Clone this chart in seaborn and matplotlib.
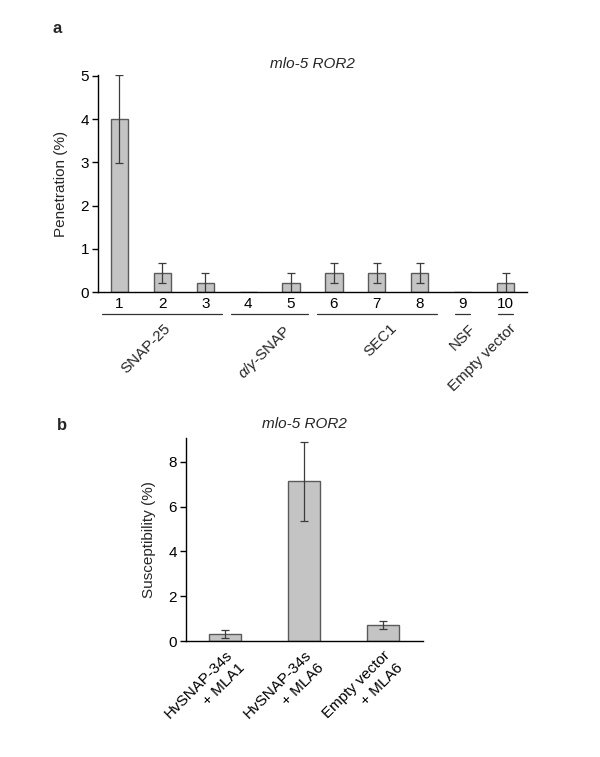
import numpy as np
import pandas as pd
import matplotlib
matplotlib.use("Agg")
import matplotlib.pyplot as plt
import matplotlib.transforms as mtransforms
import seaborn as sns

# ── Data ──────────────────────────────────────────────────────────────────────
lanes_a      = ["1", "2", "3", "4", "5", "6", "7", "8", "9", "10"]
penetration  = [4.0, 0.45, 0.22, 0.0, 0.22, 0.45, 0.45, 0.45, 0.0, 0.22]
pen_err      = [1.01, 0.23, 0.23, 0.0, 0.23, 0.23, 0.23, 0.23, 0.0, 0.23]
groups_a     = ["SNAP-25", r"$\alpha$/$\gamma$-SNAP", "SEC1", "NSF", "Empty vector"]
group_lanes  = [(0, 2), (3, 4), (5, 7), (8, 8), (9, 9)]

constructs_b   = ["HvSNAP-34s\n+ MLA1", "HvSNAP-34s\n+ MLA6", "Empty vector\n+ MLA6"]
susceptibility = [0.3, 7.12, 0.73]
susc_err       = [0.18, 1.77, 0.18]

TITLE = "mlo-5 ROR2"

# ── Style ─────────────────────────────────────────────────────────────────────
sns.set_theme(style="ticks")
plt.rcParams["font.family"] = ["Liberation Sans", "DejaVu Sans"]
plt.rcParams["mathtext.fontset"] = "custom"
plt.rcParams["mathtext.it"] = "Liberation Sans:italic"
plt.rcParams["mathtext.rm"] = "Liberation Sans"

BAR_FILL = "#c4c4c4"
BAR_EDGE = "#5a5a5a"
ERR_COL  = "#3c3c3c"
FS = 11

fig = plt.figure(figsize=(6.0, 7.57), dpi=100)
ax_a = fig.add_axes([0.1633, 0.6139, 0.715, 0.287])
ax_b = fig.add_axes([0.3095, 0.1532, 0.395, 0.2682])


def style_axis(ax):
    sns.despine(ax=ax)
    for s in ("left", "bottom"):
        ax.spines[s].set_linewidth(1.0)
        ax.spines[s].set_color("black")
    ax.tick_params(axis="y", length=4, width=1.0, pad=2.5, labelsize=FS, colors="black")
    ax.tick_params(axis="x", length=0, labelsize=FS, colors="black")
    ax.set_xlabel("")


def draw_errors(ax, vals, errs):
    idx = [i for i, e in enumerate(errs) if e > 0]
    ax.errorbar(idx, [vals[i] for i in idx], yerr=[errs[i] for i in idx],
                fmt="none", ecolor=ERR_COL, elinewidth=0.9, capsize=2.8,
                capthick=0.9, zorder=3)


# ── Panel a ───────────────────────────────────────────────────────────────────
df_a = pd.DataFrame({"lane": lanes_a, "pen": penetration})
sns.barplot(data=df_a, x="lane", y="pen", order=lanes_a, color=BAR_FILL,
            saturation=1, width=0.4, edgecolor=BAR_EDGE, linewidth=1.0,
            errorbar=None, ax=ax_a)
draw_errors(ax_a, penetration, pen_err)
ax_a.set_xlim(-0.5, len(lanes_a) - 0.5)
ax_a.set_ylim(0, 5.02)
ax_a.set_yticks([0, 1, 2, 3, 4, 5])
ax_a.set_ylabel("Penetration (%)", fontsize=FS, labelpad=9)
style_axis(ax_a)
ax_a.tick_params(axis="x", pad=3.5)
ax_a.set_title(TITLE, fontsize=FS, style="italic", pad=5)

trans = mtransforms.blended_transform_factory(ax_a.transData, ax_a.transAxes)
label_x = [1.03, 3.80, 6.30, 8.13, 9.07]
for name, (g0, g1), lx in zip(groups_a, group_lanes, label_x):
    inset = 0.1 if g1 > g0 else 0.33
    ax_a.plot([g0 - 0.5 + inset, g1 + 0.5 - inset], [-0.1, -0.1],
              color="#333333", lw=0.9, transform=trans, clip_on=False)
    ax_a.text(lx, -0.135, name, transform=trans, rotation=45,
              rotation_mode="anchor", ha="right", va="top", fontsize=FS)

fig.text(0.095, 0.962, "a", fontsize=12, fontweight="bold", ha="center", va="center")

# ── Panel b ───────────────────────────────────────────────────────────────────
df_b = pd.DataFrame({"construct": constructs_b, "susc": susceptibility})
sns.barplot(data=df_b, x="construct", y="susc", order=constructs_b, color=BAR_FILL,
            saturation=1, width=0.41, edgecolor=BAR_EDGE, linewidth=1.0,
            errorbar=None, ax=ax_b)
draw_errors(ax_b, susceptibility, susc_err)
ax_b.set_xlim(-0.5, len(constructs_b) - 0.5)
ax_b.set_ylim(0, 9.06)
ax_b.set_yticks([0, 2, 4, 6, 8])
ax_b.set_ylabel("Susceptibility (%)", fontsize=FS, labelpad=9)
style_axis(ax_b)
ax_b.tick_params(axis="x", pad=5)
for lbl in ax_b.get_xticklabels():
    lbl.set_rotation(45)
    lbl.set_rotation_mode("anchor")
    lbl.set_ha("right")
    lbl.set_va("top")
    lbl.set_multialignment("right")
    lbl.set_linespacing(1.35)
ax_b.set_title(TITLE, fontsize=FS, style="italic", pad=7)

fig.text(0.103, 0.4375, "b", fontsize=12, fontweight="bold", ha="center", va="center")

fig.savefig("out.png", dpi=100)
